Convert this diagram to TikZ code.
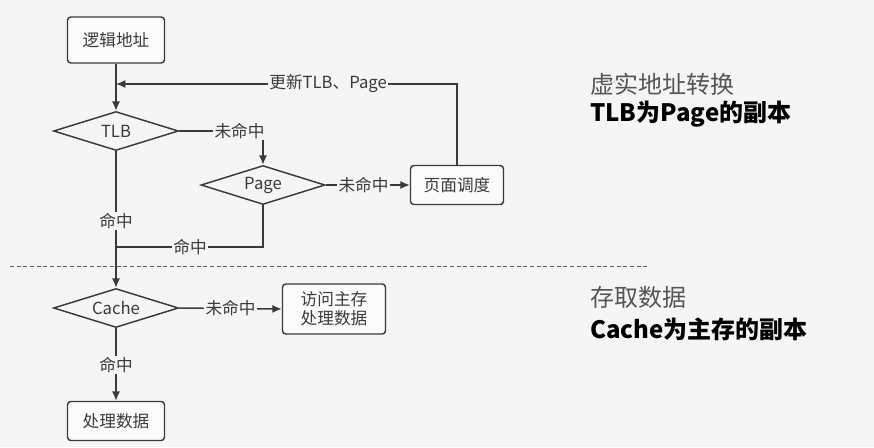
\documentclass[tikz,border=0pt]{standalone}
\usepackage{fontspec}
\setmainfont{Noto Sans CJK SC}
\usepackage{tikz}
\usetikzlibrary{arrows.meta,shapes.geometric}
\definecolor{pagebg}{HTML}{F5F5F5}
\definecolor{ink}{HTML}{3A3A3A}
\definecolor{note}{HTML}{555555}
\tikzset{
  stepbox/.style={draw=ink, rounded corners=2.5pt, line width=1.1pt, fill=white!60!pagebg,
    text=ink, font=\fontsize{12.5}{15}\selectfont, align=center, inner sep=2pt},
  test/.style={diamond, draw=ink, line width=1.1pt, shape aspect=3.2, inner sep=0pt,
    text=ink, font=\fontsize{12.5}{15}\selectfont, minimum width=93.75pt, minimum height=29.25pt},
  flow/.style={draw=ink, line width=1.1pt},
  go/.style={flow, -{Latex[length=7pt,width=6pt]}},
  lbl/.style={fill=pagebg, text=ink, inner sep=1pt, font=\fontsize{12.5}{15}\selectfont},
  remark/.style={anchor=west, inner sep=0pt, font=\fontsize{18}{22}\selectfont}
}

\begin{document}
\begin{tikzpicture}[x=0.75pt,y=-0.75pt]
  \fill[pagebg] (0,0) rectangle (874,447);
  \useasboundingbox (0,0) rectangle (874,447);
  % address translation part
  \node[stepbox, minimum width=72.75pt, minimum height=34.5pt] (addr) at (116,40) {逻辑地址};
  \node[test] (tlb) at (116,131) {TLB};
  \node[test, minimum width=93pt] (page) at (263,185) {Page};
  \node[stepbox, minimum width=69.75pt, minimum height=29.25pt] (sched) at (457,185) {页面调度};
  \coordinate (merge) at (116,84);
  \coordinate (hitjoin) at (116,247);
  % data access part
  \node[test] (cache) at (116,308) {Cache};
  \node[stepbox, minimum width=77.25pt, minimum height=37.5pt, font=\fontsize{12.5}{14}\selectfont] (mem) at (334,309) {访问主存\\处理数据};
  \node[stepbox, minimum width=72.75pt, minimum height=29.25pt] (proc) at (116,421) {处理数据};
  % connectors
  \draw[go] (addr) -- (tlb);
  \draw[go] (sched.north) |- (merge) node[lbl, pos=0.689] {更新TLB、Page};
  \draw[go] (tlb.east) -| (page.north) node[lbl, pos=0.36] {未命中};
  \draw[go] (page.east) -- (sched.west) node[lbl, pos=0.45] {未命中};
  \draw[go] (tlb.south) -- (cache.north) node[lbl, pos=0.51] {命中};
  \draw[flow] (page.south) |- (hitjoin) node[lbl, pos=0.748] {命中};
  \draw[go] (cache.east) -- (mem.west) node[lbl, pos=0.5] {未命中};
  \draw[go] (cache.south) -- (proc.north) node[lbl, pos=0.51] {命中};
  % separator
  \draw[ink!80, line width=0.6pt, dash pattern=on 3pt off 2pt] (10,266) -- (647,266);
  % notes on the right
  \node[remark, text=note] (n1) at (590,84) {虚实地址转换};
  \node[remark, text=black, font=\fontsize{18}{22}\selectfont\bfseries] (n2) at (590,114) {TLB为Page的副本};
  \node[remark, text=note] (n3) at (590,297) {存取数据};
  \node[remark, text=black, font=\fontsize{18}{22}\selectfont\bfseries] (n4) at (590,329) {Cache为主存的副本};
\end{tikzpicture}
\end{document}
